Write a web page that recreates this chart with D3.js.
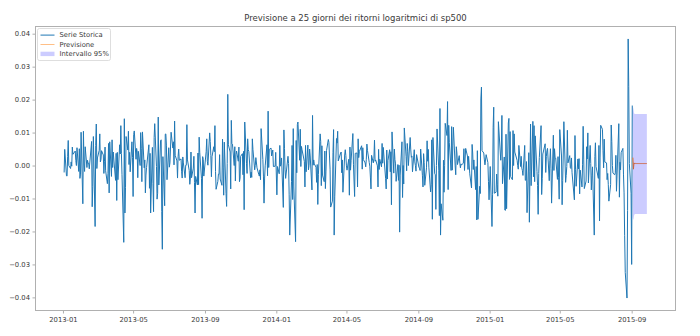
<!DOCTYPE html>
<html>
<head>
<meta charset="utf-8">
<script src="https://cdn.jsdelivr.net/npm/d3@7"></script>
<style>
  html, body { margin: 0; padding: 0; background: #fff; }
  svg { display: block; font-family: "DejaVu Sans", sans-serif; }
</style>
</head>
<body>
<svg id="chart" width="700" height="336"></svg>
<script>
// ---- data -------------------------------------------------------------
const chartTitle = "Previsione a 25 giorni dei ritorni logaritmici di sp500";
const legendLabels = ["Serie Storica", "Previsione", "Intervallo 95%"];

// trading calendar of the historical series (first return: 2013-01-03)
const seriesStart = "2013-01-03";
const seriesEnd = "2015-09-02";
const marketHolidays = [
  "2013-01-21", "2013-02-18", "2013-03-29", "2013-05-27", "2013-07-04", "2013-09-02",
  "2013-11-28", "2013-12-25",
  "2014-01-01", "2014-01-20", "2014-02-17", "2014-04-18", "2014-05-26", "2014-07-04",
  "2014-09-01", "2014-11-27", "2014-12-25",
  "2015-01-01", "2015-01-19", "2015-02-16", "2015-04-03", "2015-05-25", "2015-07-03",
  "2015-09-07"
];

// daily log returns of the S&P 500
const returns2013 = [
  // Jan
  -0.0021, 0.0049, -0.0031, -0.0032, 0.0027, 0.0076, 0.0000, -0.0009, 0.0011, -0.0002,
  0.0056, 0.0034, 0.0044, 0.0015, 0.0000, 0.0054, -0.0018, 0.0051, -0.0039, -0.0026,
  // Feb
  0.0101, -0.0116, 0.0104, 0.0005, -0.0018, 0.0057, -0.0006, 0.0016, 0.0006, 0.0007,
  -0.0010, 0.0073, -0.0125, -0.0063, 0.0088, -0.0185, 0.0061, 0.0126, -0.0009,
  // Mar
  0.0023, 0.0046, 0.0096, 0.0011, 0.0018, 0.0045, 0.0032, -0.0024, 0.0013, 0.0056,
  -0.0016, -0.0055, -0.0024, 0.0067, -0.0083, 0.0072, -0.0033, 0.0078, -0.0006, 0.0041,
  // Apr
  -0.0045, 0.0037, -0.0106, 0.0040, -0.0043, 0.0063, 0.0035, 0.0121, 0.0036, -0.0028,
  -0.0233, 0.0142, -0.0144, -0.0067, 0.0088, 0.0047, 0.0104, 0.0003, 0.0040, -0.0019,
  0.0072, 0.0025,
  // May
  -0.0094, 0.0094, 0.0105, 0.0019, 0.0052, 0.0041, -0.0037, 0.0043, 0.0000, 0.0100,
  0.0051, -0.0049, 0.0102, -0.0007, 0.0017, -0.0083, -0.0029, -0.0006, 0.0063, -0.0069,
  0.0037, -0.0144,
  // Jun
  0.0055, -0.0055, -0.0140, 0.0085, 0.0127, -0.0003, -0.0102, -0.0084, 0.0147, -0.0059,
  0.0075, 0.0078, -0.0140, -0.0254, 0.0027, -0.0122, 0.0095, 0.0096, 0.0062, -0.0043,
  // Jul
  0.0054, -0.0005, 0.0008, 0.0101, 0.0053, 0.0072, 0.0002, 0.0135, 0.0031, 0.0014,
  -0.0038, 0.0028, 0.0050, 0.0016, 0.0020, -0.0019, -0.0038, 0.0026, 0.0008, -0.0037,
  0.0001, 0.0001,
  // Aug
  0.0124, 0.0017, -0.0015, -0.0057, -0.0038, 0.0041, -0.0037, -0.0008, 0.0028, -0.0052,
  -0.0144, -0.0033, -0.0059, 0.0038, -0.0058, 0.0086, 0.0040, -0.0040, -0.0160, 0.0027,
  0.0018, -0.0032,
  // Sep
  0.0042, 0.0081, 0.0013, 0.0001, 0.0099, 0.0073, 0.0031, -0.0034, 0.0027, 0.0057,
  0.0042, 0.0121, -0.0018, -0.0072, -0.0048, -0.0026, -0.0027, 0.0033, -0.0041, -0.0060,
  // Oct
  0.0080, -0.0007, -0.0090, 0.0071, -0.0085, -0.0124, 0.0006, 0.0216, 0.0063, 0.0041,
  -0.0071, 0.0137, 0.0067, 0.0065, 0.0000, 0.0057, -0.0047, 0.0033, 0.0044, 0.0013,
  0.0056, -0.0049, -0.0038,
  // Nov
  0.0028, 0.0036, -0.0028, 0.0043, -0.0134, 0.0132, 0.0007, -0.0024, 0.0081, 0.0048,
  0.0042, -0.0037, -0.0020, -0.0036, 0.0081, 0.0049, -0.0013, 0.0000, 0.0024, -0.0007,
  // Dec
  -0.0027, -0.0032, -0.0013, -0.0043, 0.0112, 0.0018, -0.0032, -0.0114, -0.0038, -0.0001,
  0.0063, -0.0031, 0.0165, -0.0006, 0.0049, 0.0053, 0.0029, 0.0047, -0.0003, -0.0002,
  0.0040
];

const returns2014 = [
  // Jan
  -0.0089, -0.0003, -0.0025, 0.0061, -0.0002, 0.0003, 0.0023, -0.0127, 0.0108, 0.0052,
  -0.0013, -0.0039, 0.0028, 0.0006, -0.0089, -0.0211, -0.0049, 0.0061, -0.0103, 0.0112,
  -0.0065,
  // Feb
  -0.0231, 0.0076, -0.0022, 0.0124, 0.0132, 0.0016, 0.0110, -0.0003, 0.0058, 0.0048,
  0.0012, -0.0065, 0.0061, -0.0019, 0.0062, -0.0013, 0.0000, 0.0050, 0.0029,
  // Mar
  -0.0074, 0.0152, 0.0001, 0.0017, 0.0005, -0.0005, -0.0051, 0.0003, -0.0118, -0.0028,
  0.0096, 0.0072, -0.0061, 0.0060, -0.0029, -0.0049, 0.0044, -0.0070, -0.0017, 0.0046,
  0.0079,
  // Apr
  0.0070, 0.0029, -0.0011, -0.0126, -0.0108, 0.0039, 0.0109, -0.0211, -0.0095, 0.0082,
  0.0068, 0.0104, 0.0014, 0.0038, 0.0041, -0.0022, 0.0017, -0.0081, 0.0032, 0.0048,
  0.0030,
  // May
  -0.0001, -0.0014, 0.0019, -0.0090, 0.0056, -0.0014, 0.0016, 0.0097, 0.0004, -0.0047,
  -0.0094, 0.0037, 0.0038, -0.0065, 0.0081, 0.0024, 0.0042, 0.0060, -0.0011, 0.0054,
  0.0018,
  // Jun
  0.0008, -0.0004, 0.0019, 0.0065, 0.0046, 0.0009, -0.0002, -0.0035, -0.0071, 0.0031,
  0.0008, 0.0022, 0.0077, 0.0013, 0.0017, -0.0001, -0.0065, 0.0049, -0.0012, 0.0019,
  -0.0004,
  // Jul
  0.0067, 0.0007, 0.0055, -0.0039, -0.0071, 0.0047, -0.0041, 0.0015, 0.0048, -0.0019,
  0.0042, -0.0119, 0.0102, -0.0023, 0.0050, 0.0018, 0.0005, -0.0048, 0.0003, -0.0045,
  0.0001, -0.0202,
  // Aug
  -0.0029, 0.0072, -0.0097, 0.0000, -0.0056, 0.0114, 0.0028, -0.0016, 0.0067, 0.0043,
  0.0000, 0.0085, 0.0050, 0.0025, 0.0029, -0.0019, 0.0048, 0.0011, 0.0000, -0.0017,
  0.0033,
  // Sep
  -0.0005, -0.0008, -0.0015, 0.0050, -0.0031, -0.0065, 0.0036, 0.0009, -0.0060, -0.0007,
  0.0075, 0.0013, 0.0049, -0.0005, -0.0080, -0.0058, 0.0078, -0.0163, 0.0085, -0.0025,
  -0.0028,
  // Oct
  -0.0133, 0.0000, 0.0111, -0.0016, -0.0152, 0.0173, -0.0211, -0.0116, -0.0166, 0.0016,
  -0.0081, 0.0001, 0.0128, 0.0091, 0.0194, -0.0073, 0.0122, 0.0070, -0.0015, 0.0118,
  -0.0014, 0.0062, 0.0116,
  // Nov
  -0.0001, -0.0028, 0.0057, 0.0038, 0.0003, 0.0030, 0.0007, -0.0007, 0.0005, 0.0002,
  0.0007, 0.0051, -0.0015, 0.0020, 0.0052, 0.0029, -0.0012, 0.0028, -0.0025,
  // Dec
  -0.0068, 0.0064, 0.0038, -0.0012, 0.0017, -0.0073, -0.0003, -0.0165, 0.0045, -0.0163,
  -0.0063, -0.0085, 0.0202, 0.0238, 0.0045, 0.0038, 0.0017, 0.0002, 0.0033, 0.0009,
  -0.0049, -0.0104
];

const returns2015 = [
  // Jan
  -0.0003, -0.0185, -0.0089, 0.0116, 0.0177, -0.0084, -0.0081, -0.0026, -0.0058, -0.0093,
  0.0133, 0.0016, 0.0047, 0.0152, -0.0055, 0.0026, -0.0135, -0.0136, 0.0095, -0.0131,
  // Feb
  0.0129, 0.0143, -0.0042, 0.0103, -0.0034, -0.0043, 0.0106, 0.0000, 0.0096, 0.0041,
  0.0016, 0.0000, -0.0011, 0.0061, -0.0003, 0.0028, -0.0008, -0.0015, -0.0030,
  // Mar
  0.0061, -0.0045, -0.0044, 0.0012, -0.0143, 0.0039, -0.0172, -0.0019, 0.0126, -0.0061,
  0.0134, -0.0034, 0.0121, -0.0049, 0.0090, -0.0018, -0.0061, -0.0148, -0.0024, 0.0024,
  0.0121, -0.0088,
  // Apr
  -0.0040, 0.0035, 0.0066, -0.0021, 0.0027, 0.0045, 0.0052, -0.0046, 0.0016, 0.0051,
  -0.0008, -0.0114, 0.0092, -0.0015, 0.0051, 0.0024, 0.0023, -0.0042, 0.0027, -0.0037,
  -0.0102,
  // May
  0.0109, 0.0029, -0.0119, -0.0045, 0.0038, 0.0133, -0.0051, -0.0030, -0.0003, 0.0107,
  0.0008, 0.0030, -0.0006, -0.0009, 0.0023, -0.0022, -0.0104, 0.0091, -0.0013, -0.0063,
  // Jun
  0.0020, -0.0010, 0.0021, -0.0086, -0.0014, -0.0065, 0.0004, 0.0119, 0.0017, -0.0070,
  -0.0047, 0.0057, 0.0020, 0.0099, -0.0053, 0.0061, 0.0006, -0.0074, -0.0030, -0.0004,
  -0.0211, 0.0027,
  // Jul
  0.0069, -0.0003, -0.0039, 0.0061, -0.0168, 0.0023, 0.0122, 0.0110, 0.0045, -0.0007,
  0.0080, 0.0011, 0.0008, -0.0043, -0.0024, -0.0057, -0.0108, -0.0058, 0.0123, 0.0073,
  0.0000, -0.0023,
  // Aug
  -0.0028, -0.0022, 0.0031, -0.0078, -0.0029, 0.0127, -0.0096, 0.0010, -0.0013, 0.0039,
  0.0052, -0.0026, -0.0083, -0.0213, -0.0324, -0.0402, -0.0136, 0.0384, 0.0240, 0.0006,
  -0.0084,
  // Sep
  -0.0300, 0.0182
];

// 25-day forecast with its 95% interval
const forecastStart = "2015-09-03";
const forecastValues = [
  0.0024, -0.0011, 0.0008, 0.0005, 0.0007, 0.0006, 0.0006, 0.0006, 0.0006, 0.0006,
  0.0006, 0.0006, 0.0006, 0.0006, 0.0006, 0.0006, 0.0006, 0.0006, 0.0006, 0.0006,
  0.0006, 0.0006, 0.0006, 0.0006, 0.0006
];
const lower95 = [
  -0.0160, -0.0165, -0.0152, -0.0148, -0.0147, -0.0147, -0.0147, -0.0147, -0.0147, -0.0147,
  -0.0147, -0.0147, -0.0147, -0.0147, -0.0147, -0.0147, -0.0147, -0.0147, -0.0147, -0.0147,
  -0.0147, -0.0147, -0.0147, -0.0147, -0.0147
];
const upper95 = [
  0.0178, 0.0172, 0.0160, 0.0156, 0.0156, 0.0156, 0.0156, 0.0156, 0.0156, 0.0156,
  0.0156, 0.0156, 0.0156, 0.0156, 0.0156, 0.0156, 0.0156, 0.0156, 0.0156, 0.0156,
  0.0156, 0.0156, 0.0156, 0.0156, 0.0156
];

// axis ticks
const xTickLabels = ["2013-01", "2013-05", "2013-09", "2014-01", "2014-05",
                     "2014-09", "2015-01", "2015-05", "2015-09"];
const yTickValues = [-0.04, -0.03, -0.02, -0.01, 0.00, 0.01, 0.02, 0.03, 0.04];

// ---- layout -----------------------------------------------------------
const W = 700, H = 336;
const M = { top: 26, right: 24, bottom: 25, left: 35 };
const colors = { series: "#1f77b4", forecast: "#ff7f0e", band: "#0000ff" };

const parseDay = d3.utcParse("%Y-%m-%d");
const fmtDay = d3.utcFormat("%Y-%m-%d");
const parseMonth = d3.utcParse("%Y-%m");

const holidaySet = new Set(marketHolidays);
const tradingDays = d3.utcDay
  .range(parseDay(seriesStart), d3.utcDay.offset(parseDay(seriesEnd), 1))
  .filter(d => d.getUTCDay() !== 0 && d.getUTCDay() !== 6 && !holidaySet.has(fmtDay(d)));

const allReturns = returns2013.concat(returns2014, returns2015);
const history = tradingDays.map((d, i) => ({ date: d, value: allReturns[i] }))
  .filter(d => d.value !== undefined);

const forecastDays = d3.utcDay.range(
  parseDay(forecastStart),
  d3.utcDay.offset(parseDay(forecastStart), forecastValues.length));
const forecast = forecastDays.map((d, i) => ({
  date: d, value: forecastValues[i], lo: lower95[i], hi: upper95[i]
}));

// scales with 5% padding around the data, as in the default plot margins
const t0 = history[0].date, t1 = forecast[forecast.length - 1].date;
const tPad = (t1 - t0) * 0.05;
const x = d3.scaleUtc()
  .domain([new Date(+t0 - tPad), new Date(+t1 + tPad)])
  .range([M.left, W - M.right]);

const vMin = d3.min([d3.min(history, d => d.value), d3.min(forecast, d => d.lo)]);
const vMax = d3.max([d3.max(history, d => d.value), d3.max(forecast, d => d.hi)]);
const vPad = (vMax - vMin) * 0.05;
const y = d3.scaleLinear()
  .domain([vMin - vPad, vMax + vPad])
  .range([H - M.bottom, M.top]);

const svg = d3.select("#chart");

// ---- axes -------------------------------------------------------------
const axisColor = "#9a9a9a";
const textColor = "#3a3a3a";

const xAxis = d3.axisBottom(x)
  .tickValues(xTickLabels.map(parseMonth))
  .tickFormat(d3.utcFormat("%Y-%m"))
  .tickSizeInner(2.5).tickSizeOuter(0).tickPadding(3.5);
const yAxis = d3.axisLeft(y)
  .tickValues(yTickValues)
  .tickFormat(d3.format(".2f"))
  .tickSizeInner(2.5).tickSizeOuter(0).tickPadding(2.5);

const gx = svg.append("g").attr("transform", `translate(0,${H - M.bottom})`).call(xAxis);
const gy = svg.append("g").attr("transform", `translate(${M.left},0)`).call(yAxis);
[gx, gy].forEach(g => {
  g.select(".domain").remove();
  g.selectAll(".tick line").attr("stroke", axisColor).attr("stroke-width", 0.8);
  g.selectAll(".tick text").attr("fill", textColor).attr("font-size", 6.8)
    .attr("font-family", "DejaVu Sans, sans-serif");
});

// ---- marks ------------------------------------------------------------
const plot = svg.append("g");

plot.append("path")
  .datum(history)
  .attr("fill", "none")
  .attr("stroke", colors.series)
  .attr("stroke-width", 1)
  .attr("stroke-linejoin", "round")
  .attr("d", d3.line().x(d => x(d.date)).y(d => y(d.value)));

plot.append("path")
  .datum(forecast)
  .attr("fill", "none")
  .attr("stroke", colors.forecast)
  .attr("stroke-width", 1)
  .attr("d", d3.line().x(d => x(d.date)).y(d => y(d.value)));

plot.append("path")
  .datum(forecast)
  .attr("fill", colors.band)
  .attr("fill-opacity", 0.2)
  .attr("d", d3.area().x(d => x(d.date)).y0(d => y(d.lo)).y1(d => y(d.hi)));

// frame
svg.append("rect")
  .attr("x", M.left + 0.5).attr("y", M.top + 0.5)
  .attr("width", W - M.left - M.right - 1).attr("height", H - M.top - M.bottom - 1)
  .attr("fill", "none").attr("stroke", "#b0b0b0").attr("stroke-width", 1);

// title
svg.append("text")
  .attr("x", (M.left + W - M.right) / 2).attr("y", 20.5)
  .attr("text-anchor", "middle")
  .attr("font-size", 8.5)
  .attr("fill", textColor)
  .text(chartTitle);

// ---- legend -----------------------------------------------------------
const lg = svg.append("g").attr("transform", `translate(${M.left + 2.5},${M.top + 2.5})`);
lg.append("rect")
  .attr("width", 73).attr("height", 32).attr("rx", 2)
  .attr("fill", "#fff").attr("fill-opacity", 0.8)
  .attr("stroke", "#d6d6d6").attr("stroke-width", 0.8);

const rowY = i => 6.6 + i * 9.4;
lg.append("line").attr("x1", 3).attr("x2", 17).attr("y1", rowY(0)).attr("y2", rowY(0))
  .attr("stroke", colors.series).attr("stroke-width", 1);
lg.append("line").attr("x1", 3).attr("x2", 17).attr("y1", rowY(1)).attr("y2", rowY(1))
  .attr("stroke", colors.forecast).attr("stroke-width", 1).attr("stroke-opacity", 0.5);
lg.append("rect").attr("x", 3).attr("y", rowY(2) - 2.2).attr("width", 14).attr("height", 4.4)
  .attr("fill", colors.band).attr("fill-opacity", 0.2);

lg.selectAll("text.lab").data(legendLabels).join("text")
  .attr("class", "lab")
  .attr("x", 22).attr("y", (d, i) => rowY(i))
  .attr("dy", "0.35em")
  .attr("font-size", 6.8)
  .attr("fill", textColor)
  .text(d => d);
</script>
</body>
</html>
